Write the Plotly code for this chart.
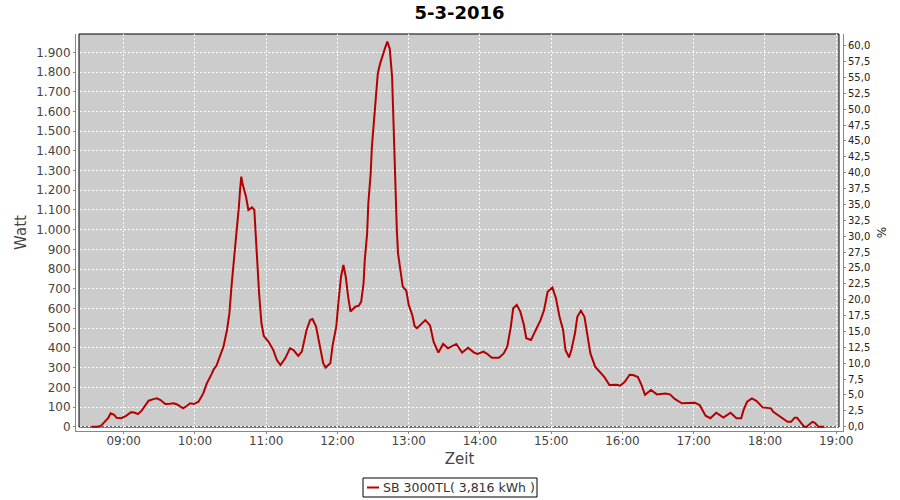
import plotly.graph_objects as go

DATE = "2016-03-05"
times = ["08:33","08:38","08:41","08:44","08:47","08:49","08:52","08:54","08:58","09:02",
         "09:06","09:09","09:12","09:15","09:18","09:21","09:25","09:28","09:31","09:35",
         "09:39","09:42","09:45","09:48","09:50","09:53","09:56","09:59","10:03","10:07",
         "10:10","10:14","10:16","10:18","10:21","10:24","10:27","10:29","10:31","10:33",
         "10:35","10:37","10:38","10:39","10:40","10:43","10:45","10:47","10:48","10:50",
         "10:51","10:52","10:54","10:56","10:58","11:02","11:06","11:09","11:12","11:16",
         "11:20","11:23","11:27","11:30","11:34","11:37","11:39","11:42","11:45","11:48",
         "11:50","11:54","11:56","11:59","12:01","12:03","12:05","12:07","12:09","12:11",
         "12:15","12:18","12:20","12:22","12:23","12:25","12:26","12:28","12:29","12:31",
         "12:33","12:34","12:36","12:38","12:40","12:42","12:44","12:46","12:47","12:48",
         "12:49","12:50","12:51","12:53","12:55","12:58","13:00","13:03","13:05","13:07",
         "13:11","13:14","13:18","13:21","13:25","13:29","13:33","13:37","13:40","13:45",
         "13:50","13:55","13:58","14:03","14:06","14:10","14:16","14:20","14:23","14:26",
         "14:28","14:31","14:34","14:37","14:39","14:43","14:47","14:51","14:54","14:57",
         "15:01","15:04","15:07","15:10","15:12","15:15","15:17","15:20","15:22","15:25",
         "15:28","15:30","15:33","15:37","15:41","15:45","15:49","15:55","15:58","16:02",
         "16:06","16:09","16:13","16:16","16:19","16:24","16:29","16:36","16:40","16:44",
         "16:50","16:56","17:01","17:05","17:08","17:10","17:14","17:19","17:25","17:31",
         "17:36","17:40","17:42","17:45","17:49","17:53","17:58","18:05","18:07","18:14",
         "18:19","18:22","18:25","18:27","18:30","18:33","18:35","18:40","18:42","18:45",
         "18:50"]
watt = [0,0,5,25,45,68,60,45,43,55,
        73,72,64,80,105,132,140,144,135,115,
        117,119,113,100,93,105,119,115,127,169,
        220,267,294,308,352,406,491,575,728,846,
        990,1117,1201,1269,1235,1167,1100,1108,1113,1100,
        990,880,677,525,460,431,389,338,313,347,
        398,389,359,381,491,541,546,508,406,322,
        300,322,415,508,643,761,821,761,660,584,
        609,614,635,728,846,981,1134,1286,1421,1590,
        1709,1794,1844,1886,1920,1954,1920,1777,1590,1303,
        1117,998,880,780,711,690,618,567,510,500,
        525,541,514,430,376,420,398,410,420,376,
        401,376,369,381,370,350,350,372,406,508,
        601,618,584,516,449,440,491,541,592,685,
        706,652,558,491,389,352,389,474,558,589,
        558,474,372,305,277,250,212,213,208,228,
        264,262,252,212,162,186,164,169,164,141,
        119,119,122,110,76,56,43,71,46,71,
        43,43,85,127,144,130,98,93,76,48,
        25,25,46,46,20,0,0,25,20,0,
        0]
series_name = "SB 3000TL( 3,816 kWh )"
title_text = "5-3-2016"

x = [f"{DATE} {t}" for t in times]
LINE_COLOR = "#b40000"

fig = go.Figure()
fig.add_trace(go.Scatter(x=x, y=watt, mode="lines", name=series_name, showlegend=False,
                         line=dict(color=LINE_COLOR, width=2), yaxis="y"))
fig.add_trace(go.Scatter(x=[x[0]], y=[0], mode="lines", showlegend=False,
                         hoverinfo="skip", yaxis="y2", line=dict(color="rgba(0,0,0,0)")))

W, H = 900, 500
L, R, T, B = 76, 843, 34, 431
dw, dh = R - L, B - T
bx0 = (79 - L) / dw
bx1 = (839 - L) / dw
by0 = (B - 427) / dh

def px_x(p):
    return (p - L) / dw

def px_y(p):
    return (B - p) / dh

axis_font = dict(family="DejaVu Sans", size=12, color="#444444")
fig.update_layout(
    width=W, height=H,
    margin=dict(l=L, r=W - R, t=T, b=H - B, pad=0),
    paper_bgcolor="white", plot_bgcolor="white",
    separators=",.",
    title=dict(text=f"<b>{title_text}</b>", x=0.5, xref="paper", y=1 - 13 / H, yref="container",
               xanchor="center", yanchor="middle",
               font=dict(family="DejaVu Sans", size=18, color="black")),
    showlegend=False,
    xaxis=dict(type="date", range=[f"{DATE} 08:19:50", f"{DATE} 19:05:43"],
               dtick=3600000, tick0=f"{DATE} 09:00", tickformat="%H:%M",
               showgrid=True, gridcolor="white", griddash="2px,2px", gridwidth=1,
               showline=True, linecolor="#888888", linewidth=1,
               ticks="outside", ticklen=2, tickcolor="#888888",
               tickfont=axis_font, zeroline=False, automargin=False,
               ticklabelstandoff=-3,
               title=dict(text="Zeit", font=dict(family="DejaVu Sans", size=15, color="#444444"),
                          standoff=6)),
    yaxis=dict(range=[-21.8, 1993], tick0=0, dtick=100, tickformat=",d",
               showgrid=True, gridcolor="white", griddash="2px,2px", gridwidth=1,
               showline=True, linecolor="#888888", linewidth=1,
               ticks="outside", ticklen=2, tickcolor="#888888",
               tickfont=axis_font, zeroline=False, automargin=False,
               title=dict(text="Watt", font=dict(family="DejaVu Sans", size=15, color="#444444"),
                          standoff=5)),
    yaxis2=dict(range=[-0.68, 61.84], tick0=0, dtick=2.5, tickformat=".1f",
                overlaying="y", side="right", showgrid=False,
                showline=True, linecolor="#888888", linewidth=1,
                ticks="outside", ticklen=2, tickcolor="#888888",
                tickfont=dict(family="DejaVu Sans", size=10, color="#222222"), zeroline=False,
                automargin=False,
                title=dict(text="%", font=dict(family="DejaVu Sans", size=12, color="#222222"),
                           standoff=8)),
    shapes=[
        dict(type="rect", xref="paper", yref="paper", x0=bx0, x1=bx1, y0=by0, y1=1,
             fillcolor="#cccccc", line=dict(width=0), layer="below"),
        dict(type="rect", xref="paper", yref="paper", x0=bx0, x1=bx1, y0=by0, y1=1,
             fillcolor="rgba(0,0,0,0)", line=dict(color="black", width=1), layer="between"),
        # legend box and sample line
        dict(type="rect", xref="paper", yref="paper", x0=px_x(363), x1=px_x(537),
             y0=px_y(497), y1=px_y(478), fillcolor="white",
             line=dict(color="black", width=1), layer="above"),
        dict(type="line", xref="paper", yref="paper", x0=px_x(367), x1=px_x(379),
             y0=px_y(487.5), y1=px_y(487.5), line=dict(color=LINE_COLOR, width=2), layer="above"),
    ],
    annotations=[
        dict(text=series_name, xref="paper", yref="paper", x=px_x(381), y=px_y(487.5),
             xanchor="left", yanchor="middle", showarrow=False,
             font=dict(family="DejaVu Sans", size=12.5, color="#333333")),
    ],
)

fig.write_html("out.html", config={"displayModeBar": False},
               post_script="document.body.style.margin='0';")
